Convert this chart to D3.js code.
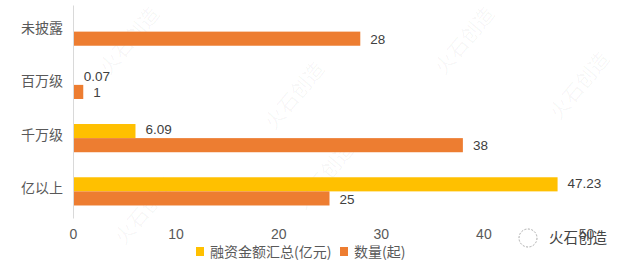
<!DOCTYPE html>
<html>
<head>
<meta charset="utf-8">
<script src="https://cdn.jsdelivr.net/npm/d3@7"></script>
<style>
  body { margin: 0; background: #fff; }
  svg { display: block; font-family: "Liberation Sans", "Noto Sans CJK SC", sans-serif; }
</style>
</head>
<body>
<div id="chart"></div>
<script>
const categories = ["未披露", "百万级", "千万级", "亿以上"];
const amount = [null, 0.07, 6.09, 47.23]; // 融资金额汇总(亿元)
const count = [28, 1, 38, 25]; // 数量(起)
const seriesNames = ["融资金额汇总(亿元)", "数量(起)"];
const ticks = [0, 10, 20, 30, 40, 50];

const width = 627;
const height = 269;
const colors = ["#FFC000", "#ED7D31"];

const svg = d3
  .select("#chart")
  .append("svg")
  .attr("width", width)
  .attr("height", height);

// faint watermarks
const marks = [
  [135, 45], [300, 100], [585, 90], [330, 180], [150, 215], [470, 45]
];
svg
  .append("g")
  .selectAll("text")
  .data(marks)
  .join("text")
  .attr("transform", (d) => `translate(${d[0]},${d[1]}) rotate(-50)`)
  .attr("text-anchor", "middle")
  .attr("font-size", 20)
  .attr("fill", "#000")
  .attr("fill-opacity", 0.04)
  .attr("font-family", "Noto Sans CJK SC")
  .text("火石创造");

const x = d3.scaleLinear().domain([0, 50]).range([73, 586]);

const y = d3
  .scaleBand()
  .domain(categories)
  .range([5, 218])
  .paddingInner(0.47)
  .paddingOuter(0.235);

const sub = d3
  .scaleBand()
  .domain([0, 1])
  .range([0, y.bandwidth()]);

const rows = categories.map((c, i) => ({ c, vals: [amount[i], count[i]] }));

const g = svg
  .append("g")
  .selectAll("g")
  .data(rows)
  .join("g")
  .attr("transform", (d) => `translate(0,${y(d.c)})`);

const items = g
  .selectAll("g")
  .data((d) => d.vals.map((v, k) => ({ v, k })).filter((e) => e.v != null))
  .join("g");

items
  .append("rect")
  .attr("x", x(0))
  .attr("y", (d) => sub(d.k))
  .attr("height", sub.bandwidth())
  .attr("width", (d) => x(d.v) - x(0))
  .attr("fill", (d) => colors[d.k]);

items
  .append("text")
  .attr("x", (d) => x(d.v) + 10)
  .attr("y", (d) => sub(d.k) + sub.bandwidth() / 2 + (d.k === 0 ? -1.5 : 0.5))
  .attr("dy", "0.35em")
  .attr("font-size", 13.5)
  .attr("fill", "#404040")
  .text((d) => d.v);

// y axis
svg
  .append("g")
  .attr("transform", `translate(${x(0)},0)`)
  .call(d3.axisLeft(y).tickSize(0).tickPadding(10))
  .call((g) => g.select(".domain").attr("stroke", "#d9d9d9"))
  .call((g) =>
    g
      .selectAll(".tick text")
      .attr("font-size", 14)
      .attr("fill", "#595959")
      .attr("font-family", "Noto Sans CJK SC")
      .attr("dy", "0.1em")
  );

// x axis (labels only)
svg
  .append("g")
  .attr("transform", `translate(0,218)`)
  .call(d3.axisBottom(x).tickValues(ticks).tickSize(0).tickPadding(11))
  .call((g) => g.select(".domain").remove())
  .call((g) =>
    g.selectAll(".tick text").attr("font-size", 14).attr("fill", "#595959")
  );

// legend
const legendX = [196, 340];
const legend = svg
  .append("g")
  .selectAll("g")
  .data(seriesNames)
  .join("g")
  .attr("transform", (d, i) => `translate(${legendX[i]},247)`);

legend
  .append("rect")
  .attr("width", 8)
  .attr("height", 9)
  .attr("fill", (d, i) => colors[i]);

legend
  .append("text")
  .attr("x", 14)
  .attr("y", 5)
  .attr("dy", "0.35em")
  .attr("font-size", 14)
  .attr("fill", "#595959")
  .attr("font-family", "Noto Sans CJK SC")
  .text((d) => d);

// brand mark bottom right
const brand = svg.append("g").attr("transform", "translate(518,238)");
brand
  .append("circle")
  .attr("cx", 10)
  .attr("cy", 0)
  .attr("r", 9)
  .attr("fill", "none")
  .attr("stroke", "#aaa")
  .attr("stroke-width", 1)
  .attr("stroke-dasharray", "2,1.5");
brand
  .append("text")
  .attr("x", 31)
  .attr("y", 0)
  .attr("dy", "0.35em")
  .attr("font-size", 14.5)
  .attr("fill", "#444")
  .attr("font-family", "Noto Sans CJK SC")
  .text("火石创造");
</script>
</body>
</html>
